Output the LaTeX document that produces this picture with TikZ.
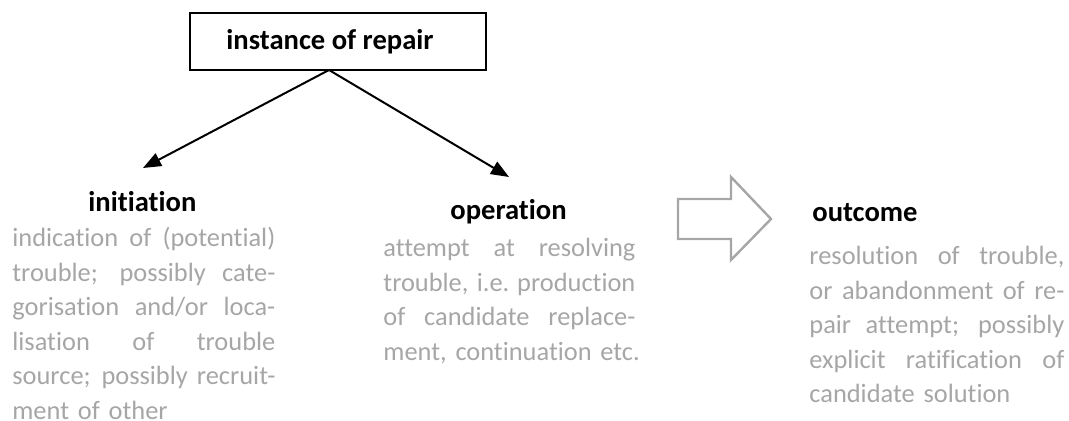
\documentclass[tikz,border=0pt]{standalone}
\usepackage{fontspec}
\setmainfont{Carlito}[Ligatures=NoCommon]
\usetikzlibrary{arrows.meta}
\definecolor{bodygray}{HTML}{A6A6A6}
\newcommand\jline[1]{\makebox[\linewidth][s]{\spaceskip=0.22em plus 1fil\xspaceskip=0.22em plus 1fil\relax #1}\\}
\newcommand\lastline[1]{\makebox[\linewidth][l]{#1}}
\tikzset{
  title/.style={font=\fontsize{14.3}{17.25}\selectfont\bfseries, inner sep=0pt, anchor=base west},
  body/.style={font=\fontsize{13.2}{17.25}\selectfont, text=bodygray, inner sep=0pt, anchor=base west, align=left},
  link/.style={line width=1pt, -{Triangle[length=9pt,width=7pt]}},
  bigarrow/.style={draw=bodygray, line width=1.2pt, line join=miter}
}
\begin{document}
\begin{tikzpicture}[x=0.5pt,y=-0.5pt]
\useasboundingbox (0,0) rectangle (1069,421);
% top box
\node[draw, line width=0.8pt, minimum width=148pt, minimum height=28.5pt, inner sep=0pt,
      font=\fontsize{14.3}{17.25}\selectfont\bfseries] (repair) at (338,41.5) {\hspace*{-8pt}instance of repair};
\coordinate (apex) at (329,70);
\coordinate (tipL) at (143,168);
\coordinate (tipR) at (509,177);
\draw[link] (apex) -- (tipL);
\draw[link] (apex) -- (tipR);
% titles
\node[title] (initT) at (88,212) {initiation};
\node[title] (operT) at (450,220) {operation};
\node[title] (outT) at (812,222) {outcome};
% bodies
\node[body, text width=131.5pt] (initB) at (12,247) {%
\jline{indication of (potential)}%
\jline{trouble; possibly cate-}%
\jline{gorisation and/or loca-}%
\jline{lisation of trouble}%
\jline{source; possibly recruit-}%
\lastline{ment of other}};
\node[body, text width=126pt] (operB) at (383,257) {%
\jline{attempt at resolving}%
\jline{trouble, i.e. production}%
\jline{of candidate replace-}%
\lastline{ment, continuation etc.}};
\node[body, text width=127.5pt] (outB) at (809,265) {%
\jline{resolution of trouble,}%
\jline{or abandonment of re-}%
\jline{pair attempt; possibly}%
\jline{explicit ratification of}%
\lastline{candidate solution}};
% outline arrow
\draw[bigarrow] (678,199) -- (731,199) -- (731,177) -- (771,219) -- (731,260) -- (731,239) -- (678,239) -- cycle;
\end{tikzpicture}
\end{document}
